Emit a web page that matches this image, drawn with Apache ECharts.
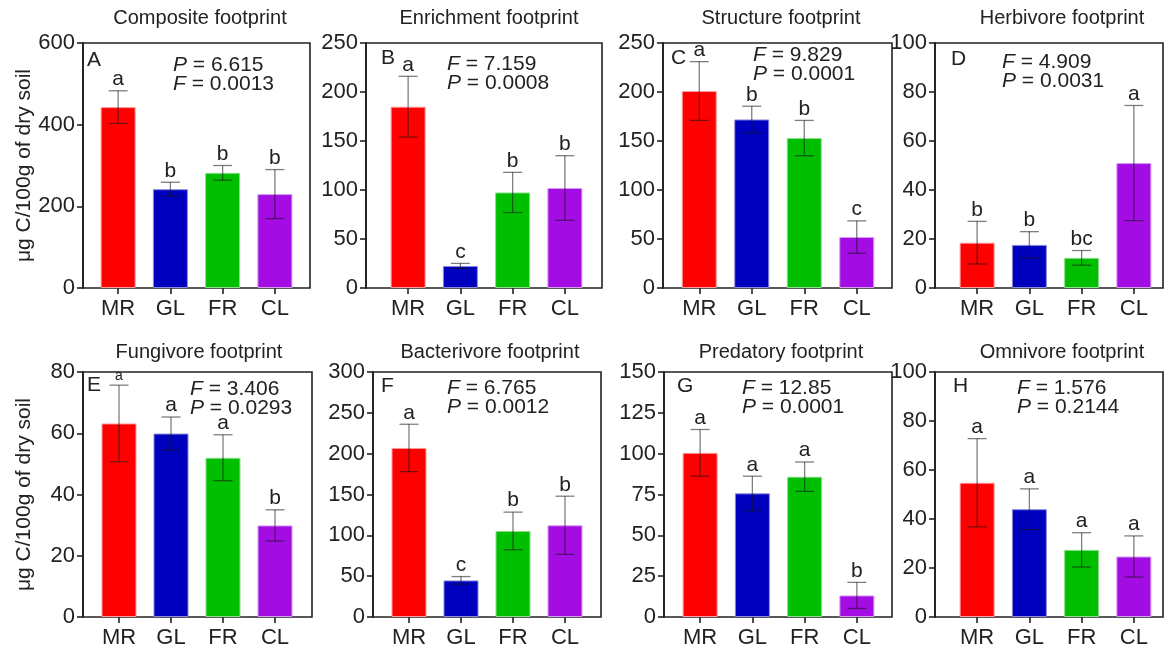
<!DOCTYPE html>
<html>
<head>
<meta charset="utf-8">
<script src="https://cdn.jsdelivr.net/npm/echarts@6/dist/echarts.min.js"></script>
<style>
  html, body { margin: 0; padding: 0; background: #fff; }
  #main { width: 1168px; height: 650px; }
</style>
</head>
<body>
<div id="main"></div>
<script>
// groups on the x axis
var categories = ['MR', 'GL', 'FR', 'CL'];
var barColors = ['#FF0000', '#0000BF', '#00BF00', '#A30CE3'];
var barEdges = ['#ff9c9c', '#8a8ae0', '#8ae08a', '#d59af2'];

var panelTitles = ['Composite footprint', 'Enrichment footprint', 'Structure footprint', 'Herbivore footprint',
  'Fungivore footprint', 'Bacterivore footprint', 'Predatory footprint', 'Omnivore footprint'];
var panelLetters = ['A', 'B', 'C', 'D', 'E', 'F', 'G', 'H'];
var yMax = [600, 250, 250, 100, 80, 300, 150, 100];
var yStep = [200, 50, 50, 20, 20, 50, 25, 20];

// means, error bars and significance letters
var compositeMean = [443, 242, 282, 230];
var compositeErr = [40, 17, 18, 60];
var compositeSig = ['a', 'b', 'b', 'b'];
var enrichmentMean = [185, 22.5, 97.5, 102];
var enrichmentErr = [31, 2.6, 20.5, 33];
var enrichmentSig = ['a', 'c', 'b', 'b'];
var structureMean = [201, 172, 153, 52];
var structureErr = [30, 13.5, 18, 16.5];
var structureSig = ['a', 'b', 'b', 'c'];
var herbivoreMean = [18.5, 17.6, 12.3, 51];
var herbivoreErr = [8.7, 5.4, 3, 23.5];
var herbivoreSig = ['b', 'b', 'bc', 'a'];
var fungivoreMean = [63.2, 59.9, 52, 29.9];
var fungivoreErr = [12.5, 5.4, 7.5, 5.1];
var fungivoreSig = ['a', 'a', 'a', 'b'];
var bacterivoreMean = [207, 44.8, 105.4, 112.3];
var bacterivoreErr = [29, 4.7, 23, 35.6];
var bacterivoreSig = ['a', 'c', 'b', 'b'];
var predatoryMean = [100.5, 75.7, 85.9, 13.2];
var predatoryErr = [14.3, 10.5, 9, 8];
var predatorySig = ['a', 'a', 'a', 'b'];
var omnivoreMean = [54.8, 44, 27.4, 24.7];
var omnivoreErr = [18, 8.3, 7, 8.4];
var omnivoreSig = ['a', 'a', 'a', 'a'];

// ANOVA text (first line, second line) - panel A keeps its original labels
var statLine1 = [['P', '6.615'], ['F', '7.159'], ['F', '9.829'], ['F', '4.909'],
  ['F', '3.406'], ['F', '6.765'], ['F', '12.85'], ['F', '1.576']];
var statLine2 = [['F', '0.0013'], ['P', '0.0008'], ['P', '0.0001'], ['P', '0.0031'],
  ['P', '0.0293'], ['P', '0.0012'], ['P', '0.0001'], ['P', '0.2144']];

var means = [compositeMean, enrichmentMean, structureMean, herbivoreMean, fungivoreMean, bacterivoreMean, predatoryMean, omnivoreMean];
var errs = [compositeErr, enrichmentErr, structureErr, herbivoreErr, fungivoreErr, bacterivoreErr, predatoryErr, omnivoreErr];
var sigs = [compositeSig, enrichmentSig, structureSig, herbivoreSig, fungivoreSig, bacterivoreSig, predatorySig, omnivoreSig];

// layout (pixels)
var frameLeft = [83, 366, 663, 935, 83, 373, 664, 935];
var frameRight = [310, 602, 892, 1163, 312, 601, 892, 1163];
var innerLeft = [92, 382, 673, 951, 93, 383, 674, 951];
var innerRight = [301, 591, 883, 1160, 301, 591, 883, 1160];
var rowTop = [43, 43, 43, 43, 372, 372, 372, 372];
var plotH = 245;
var titleX = [200, 489, 781, 1062, 199, 490, 781, 1062];
var titleY = [18, 18, 18, 18, 352, 352, 352, 352];
var statX = [173, 447, 753, 1002, 190, 447, 742, 1017];
var statY = [65, 64, 55, 62, 389, 388, 388, 388];
var letterX = [87, 381, 671, 951, 87, 381, 677, 953];
var letterY = [60, 58, 58, 59, 385, 386, 386, 386];

var FONT = '"Liberation Sans", Arial, Helvetica, sans-serif';
var INK = '#222';

var chart = echarts.init(document.getElementById('main'));

var grid = [], xAxis = [], yAxis = [], series = [], title = [];

function errRender(k) {
  return function(params, api) {
    var i = api.value(0);
    var top = api.coord([i, api.value(2)]);
    var bot = api.coord([i, api.value(1)]);
    var w = 9.5;
    var line = { stroke: 'rgba(20,20,20,0.55)', lineWidth: 1.3 };
    var small = top[1] - rowTop[k] < 16;
    return {
      type: 'group',
      children: [
        { type: 'line', shape: { x1: top[0], y1: top[1], x2: bot[0], y2: bot[1] }, style: line },
        { type: 'line', shape: { x1: top[0] - w, y1: top[1], x2: top[0] + w, y2: top[1] }, style: line },
        { type: 'line', shape: { x1: bot[0] - w, y1: bot[1], x2: bot[0] + w, y2: bot[1] }, style: line },
        {
          type: 'text',
          style: {
            text: sigs[k][params.dataIndex],
            x: top[0], y: top[1] - (small ? 2 : 1),
            align: 'center', verticalAlign: 'bottom',
            fontSize: small ? 14 : 21, fontFamily: FONT, fill: INK
          }
        }
      ]
    };
  };
}

for (var k = 0; k < 8; k++) {
  var fg = 2 * k, dg = 2 * k + 1;
  // frame box
  grid.push({
    left: frameLeft[k], top: rowTop[k], width: frameRight[k] - frameLeft[k], height: plotH,
    show: true, borderColor: INK, borderWidth: 1.6, backgroundColor: 'transparent'
  });
  xAxis.push({ gridIndex: fg, type: 'value', show: false });
  yAxis.push({ gridIndex: fg, type: 'value', show: false });

  // data area
  grid.push({ left: innerLeft[k], top: rowTop[k], width: innerRight[k] - innerLeft[k], height: plotH });
  xAxis.push({
    gridIndex: dg, type: 'category', data: categories,
    axisLine: { show: false },
    axisTick: { show: true, alignWithLabel: true, length: 6, lineStyle: { color: INK, width: 1.6 } },
    axisLabel: { fontSize: 22, margin: 10, color: INK, fontFamily: FONT }
  });
  var ya = {
    gridIndex: dg, type: 'value', min: 0, max: yMax[k], interval: yStep[k],
    offset: innerLeft[k] - frameLeft[k],
    axisLine: { show: true, lineStyle: { color: INK, width: 1.8 } },
    axisTick: { show: true, length: 6, lineStyle: { color: INK, width: 1.6 } },
    axisLabel: { fontSize: 22, margin: 8, color: INK, fontFamily: FONT },
    splitLine: { show: false }
  };
  if (k === 0 || k === 4) {
    ya.name = 'μg C/100g of dry soil';
    ya.nameLocation = 'middle';
    ya.nameGap = 48;
    ya.nameTextStyle = { fontSize: 21, color: INK, fontFamily: FONT };
  }
  yAxis.push(ya);

  series.push({
    type: 'bar', xAxisIndex: dg, yAxisIndex: dg, barWidth: 35,
    data: means[k].map(function(v, i) {
      return { value: v, itemStyle: { color: barColors[i], borderColor: barEdges[i], borderWidth: 1 } };
    })
  });
  series.push({
    type: 'custom', xAxisIndex: dg, yAxisIndex: dg, z: 5,
    renderItem: errRender(k),
    encode: { x: 0, y: [1, 2] },
    data: means[k].map(function(v, i) { return [i, v - errs[k][i], v + errs[k][i]]; })
  });

  title.push({
    text: panelTitles[k], left: titleX[k], top: titleY[k] - 12, textAlign: 'left', padding: 0,
    textStyle: { fontSize: 20, lineHeight: 24, fontWeight: 'normal', color: INK, fontFamily: FONT }
  });
  title[title.length - 1].textAlign = 'center';
  title.push({
    text: '{i|' + statLine1[k][0] + '} = ' + statLine1[k][1] + '\n{i|' + statLine2[k][0] + '} = ' + statLine2[k][1],
    left: statX[k], top: statY[k] - 9.5, textAlign: 'left', padding: 0,
    textStyle: {
      fontSize: 21, lineHeight: 19, fontWeight: 'normal', color: INK, fontFamily: FONT,
      rich: { i: { fontSize: 21, lineHeight: 19, fontStyle: 'italic', color: INK, fontFamily: FONT } }
    }
  });
  title.push({
    text: panelLetters[k], left: letterX[k], top: letterY[k] - 11, textAlign: 'left', padding: 0,
    textStyle: { fontSize: 21, lineHeight: 22, fontWeight: 'normal', color: INK, fontFamily: FONT }
  });
}

chart.setOption({
  animation: false,
  backgroundColor: '#fff',
  title: title,
  grid: grid,
  xAxis: xAxis,
  yAxis: yAxis,
  series: series
});
</script>
</body>
</html>
